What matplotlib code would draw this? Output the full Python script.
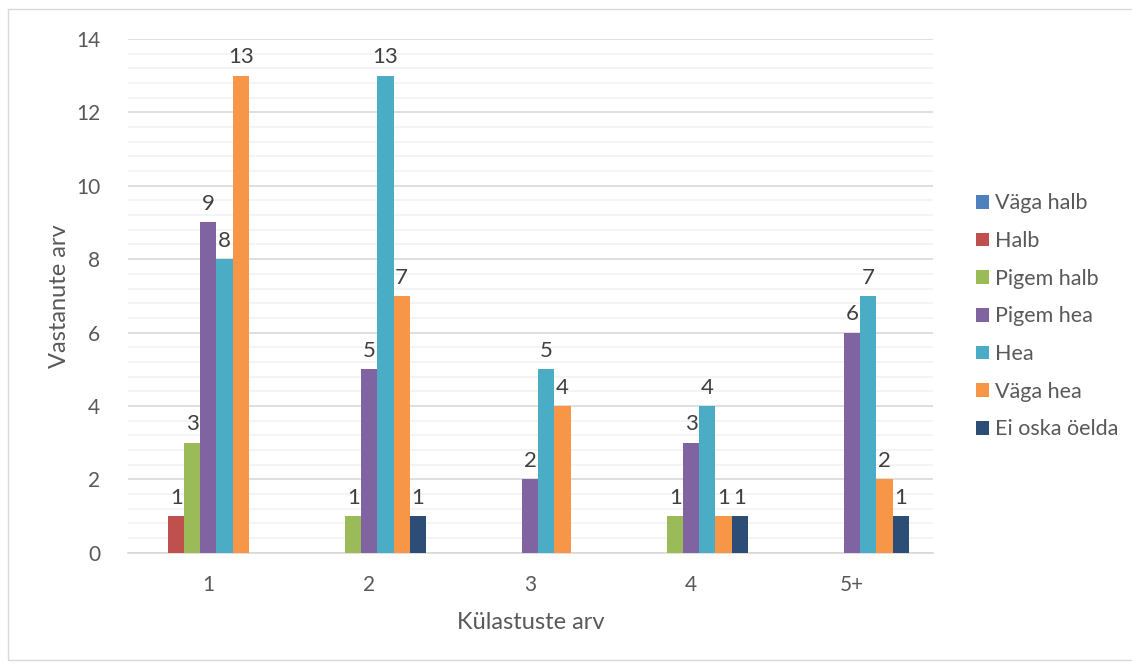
import numpy as np
import matplotlib.pyplot as plt
from matplotlib.patches import Rectangle
from matplotlib.ticker import MultipleLocator

plt.rcParams['font.family'] = ['Lato', 'DejaVu Sans']

# andmed
kategooriad = ["1", "2", "3", "4", "5+"]
seeriad = ["Väga halb", "Halb", "Pigem halb", "Pigem hea", "Hea", "Väga hea", "Ei oska öelda"]
vaga_halb = [0, 0, 0, 0, 0]
halb = [1, 0, 0, 0, 0]
pigem_halb = [3, 1, 0, 1, 0]
pigem_hea = [9, 5, 2, 3, 6]
hea = [8, 13, 5, 4, 7]
vaga_hea = [13, 7, 4, 1, 2]
ei_oska = [0, 1, 0, 1, 1]

vaartused = [vaga_halb, halb, pigem_halb, pigem_hea, hea, vaga_hea, ei_oska]
varvid = ["#4F81BD", "#C0504D", "#9BBB59", "#8064A2", "#4BACC6", "#F79646", "#2C4D75"]

tekst = "#595959"

fig = plt.figure(figsize=(11.32, 6.66), dpi=100)
fig.patches.append(Rectangle((8 / 1132, 6 / 666), 1.0, 651 / 666, transform=fig.transFigure,
                             fill=False, edgecolor="#D9D9D9", linewidth=1))
ax = fig.add_axes([0.113, 0.170, 0.711, 0.7715])

x = np.arange(len(kategooriad))
laius = 0.1
for i, (nimi, v, c) in enumerate(zip(seeriad, vaartused, varvid)):
    pos = x + (i - 3) * laius
    bars = ax.bar(pos, v, width=laius, color=c, label=nimi, zorder=3)
    for b, val in zip(bars, v):
        if val > 0:
            ax.annotate(str(val), (b.get_x() + b.get_width() / 2, val),
                        xytext=(0, 6), textcoords="offset points",
                        ha="center", va="bottom", fontsize=16, color="#404040")

ax.set_xlim(-0.5, 4.5)
ax.set_ylim(0, 14)
ax.yaxis.set_major_locator(MultipleLocator(2))
ax.yaxis.set_minor_locator(MultipleLocator(0.4))
ax.grid(axis="y", which="major", color="#D9D9D9", linewidth=1.2, zorder=0)
ax.grid(axis="y", which="minor", color="#F2F2F2", linewidth=1.2, zorder=0)
ax.set_axisbelow(True)

ax.set_xticks(x)
ax.set_xticklabels(kategooriad)
ax.tick_params(axis="both", which="both", length=0, labelsize=15, labelcolor=tekst)
ax.tick_params(axis="x", pad=16)
ax.tick_params(axis="y", pad=20)

for s in ["top", "right", "left"]:
    ax.spines[s].set_visible(False)
ax.spines["bottom"].set_color("#D9D9D9")
ax.spines["bottom"].set_linewidth(1.2)

ax.set_xlabel("Külastuste arv", fontsize=17, color=tekst, labelpad=12)
ax.set_ylabel("Vastanute arv", fontsize=17, color=tekst, labelpad=4)

leg = ax.legend(loc="center left", bbox_to_anchor=(1.03, 0.46), frameon=False,
                fontsize=15.5, labelcolor=tekst, handlelength=0.6, handleheight=0.6,
                handletextpad=0.25, labelspacing=0.82)

fig.savefig("out.png", dpi=100)
